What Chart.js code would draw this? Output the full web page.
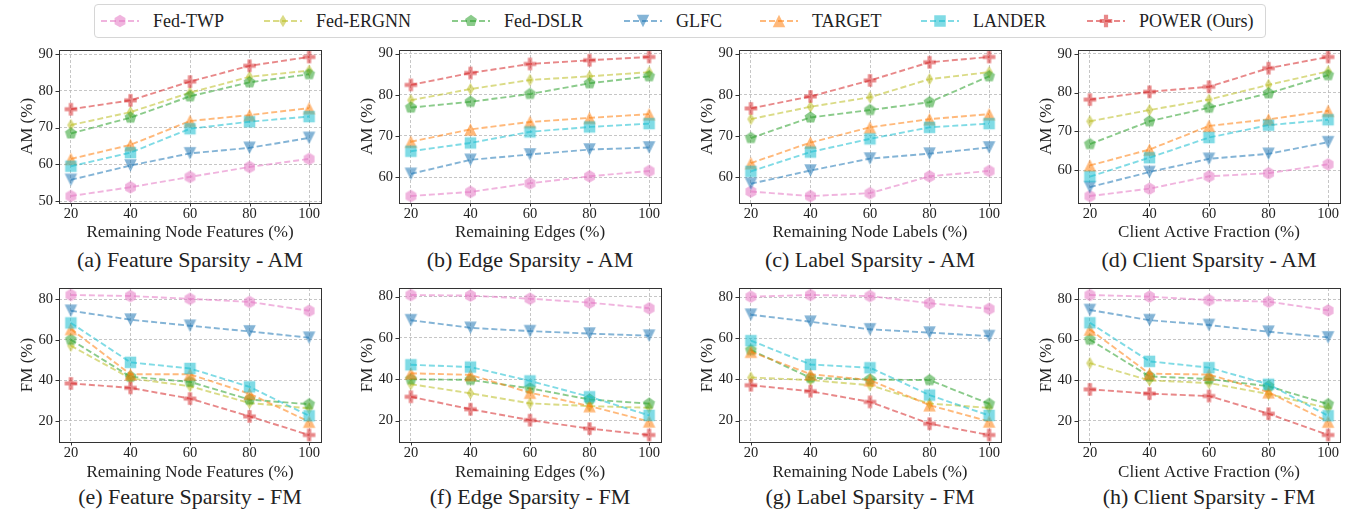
<!DOCTYPE html>
<html>
<head>
<meta charset="utf-8">
<script src="https://cdn.jsdelivr.net/npm/chart.js@4.4.1/dist/chart.umd.min.js"></script>
<style>
  body { margin: 0; background: #fff; width: 1353px; height: 510px; position: relative; overflow: hidden;
         font-family: "Liberation Serif", "Times New Roman", Times, "DejaVu Serif", serif; color: #222; }
  canvas { position: absolute; }
  .cap { position: absolute; width: 262px; text-align: center; font-size: 22px; line-height: 26px; white-space: nowrap; color: #222; }
  #legend { position: absolute; left: 94px; top: 4px; width: 1172px; height: 34px; box-sizing: border-box;
            border: 1px solid #d6d6d6; border-radius: 4px; }
  .item { position: absolute; top: 0; height: 32px; line-height: 32px; font-size: 18px; white-space: nowrap; }
  .handle { position: absolute; top: 6px; }
</style>
</head>
<body>
<div id="legend"></div>
<script>
const xValues = [20, 40, 60, 80, 100];
const methods = ['Fed-TWP', 'Fed-ERGNN', 'Fed-DSLR', 'GLFC', 'TARGET', 'LANDER', 'POWER (Ours)'];
const amTicks = [50, 60, 70, 80, 90];
const fmTicks = [20, 40, 60, 80];

// rows follow the order of methods
const featureAM = [
  [51.4, 53.8, 56.6, 59.3, 61.5],
  [70.7, 74.2, 79.5, 83.8, 85.5],
  [68.4, 72.7, 78.5, 82.3, 84.5],
  [55.8, 59.7, 63.0, 64.5, 67.2],
  [61.5, 65.3, 71.8, 73.4, 75.3],
  [59.5, 63.2, 69.7, 71.6, 73.0],
  [75.0, 77.4, 82.5, 86.8, 89.2]
];
const edgeAM = [
  [55.4, 56.4, 58.5, 60.2, 61.5],
  [78.7, 81.4, 83.6, 84.5, 85.5],
  [76.9, 78.3, 80.2, 82.8, 84.5],
  [60.8, 64.2, 65.5, 66.7, 67.2],
  [68.6, 71.6, 73.4, 74.4, 75.3],
  [66.3, 68.3, 71.0, 72.2, 73.0],
  [82.4, 85.3, 87.5, 88.4, 89.2]
];
const labelAM = [
  [56.5, 55.4, 56.1, 60.2, 61.5],
  [74.1, 77.1, 79.4, 83.8, 85.5],
  [69.5, 74.5, 76.3, 78.2, 84.5],
  [58.4, 61.6, 64.5, 65.7, 67.2],
  [63.4, 68.4, 72.1, 74.1, 75.3],
  [61.4, 66.1, 69.3, 72.1, 73.0],
  [76.7, 79.6, 83.5, 87.9, 89.2]
];
const clientAM = [
  [53.3, 55.2, 58.4, 59.2, 61.5],
  [72.6, 75.5, 78.2, 82.0, 85.5],
  [66.7, 72.6, 76.1, 79.8, 84.5],
  [55.6, 59.5, 62.9, 64.2, 67.2],
  [61.2, 65.3, 71.4, 73.1, 75.3],
  [58.3, 63.2, 68.4, 71.6, 73.0],
  [78.2, 80.2, 81.5, 86.3, 89.2]
];
const featureFM = [
  [82.2, 81.7, 80.3, 78.8, 74.4],
  [57.1, 41.0, 37.1, 28.8, 26.2],
  [60.1, 41.8, 39.3, 30.5, 28.2],
  [74.4, 70.0, 67.0, 64.2, 61.1],
  [65.4, 43.0, 43.0, 33.4, 19.6],
  [68.4, 48.9, 45.9, 36.8, 22.5],
  [38.5, 36.3, 31.0, 22.2, 13.0]
];
const edgeFM = [
  [80.8, 80.5, 79.0, 77.1, 74.4],
  [37.6, 33.2, 28.3, 27.0, 26.2],
  [40.0, 39.7, 35.6, 30.2, 28.2],
  [68.6, 64.9, 63.3, 62.1, 61.1],
  [42.9, 42.1, 33.5, 27.0, 19.6],
  [47.0, 45.9, 39.2, 31.5, 22.5],
  [31.5, 25.5, 20.2, 16.1, 13.0]
];
const labelFM = [
  [80.3, 81.1, 80.6, 77.1, 74.4],
  [41.0, 39.7, 37.2, 28.3, 26.2],
  [54.3, 40.8, 40.0, 39.7, 28.2],
  [71.5, 68.1, 64.4, 62.8, 61.1],
  [53.5, 42.6, 39.7, 27.5, 19.6],
  [58.9, 47.3, 45.7, 32.4, 22.5],
  [37.2, 34.3, 29.1, 18.5, 13.0]
];
const clientFM = [
  [82.0, 81.2, 79.5, 78.7, 74.4],
  [48.4, 39.9, 38.6, 33.2, 26.2],
  [60.0, 41.9, 40.6, 37.0, 28.2],
  [74.6, 69.6, 67.2, 63.9, 61.1],
  [65.0, 43.2, 42.8, 34.1, 19.6],
  [68.3, 49.3, 46.2, 38.0, 22.5],
  [35.5, 33.4, 32.2, 23.5, 13.0]
];

const panels = [
  { data: featureAM, yTitle: 'AM (%)', ticks: amTicks, xTitle: 'Remaining Node Features (%)', caption: '(a) Feature Sparsity - AM' },
  { data: edgeAM,    yTitle: 'AM (%)', ticks: amTicks, xTitle: 'Remaining Edges (%)',        caption: '(b) Edge Sparsity - AM' },
  { data: labelAM,   yTitle: 'AM (%)', ticks: amTicks, xTitle: 'Remaining Node Labels (%)',  caption: '(c) Label Sparsity - AM' },
  { data: clientAM,  yTitle: 'AM (%)', ticks: amTicks, xTitle: 'Client Active Fraction (%)', caption: '(d) Client Sparsity - AM' },
  { data: featureFM, yTitle: 'FM (%)', ticks: fmTicks, xTitle: 'Remaining Node Features (%)', caption: '(e) Feature Sparsity - FM' },
  { data: edgeFM,    yTitle: 'FM (%)', ticks: fmTicks, xTitle: 'Remaining Edges (%)',        caption: '(f) Edge Sparsity - FM' },
  { data: labelFM,   yTitle: 'FM (%)', ticks: fmTicks, xTitle: 'Remaining Node Labels (%)',  caption: '(g) Label Sparsity - FM' },
  { data: clientFM,  yTitle: 'FM (%)', ticks: fmTicks, xTitle: 'Client Active Fraction (%)', caption: '(h) Client Sparsity - FM' }
];

// styling
const colors = ['227,119,194', '188,189,34', '44,160,44', '31,119,180', '255,127,14', '23,190,207', '214,39,40'];
const shapes = ['hexagon', 'thinDiamond', 'pentagon', 'triDown', 'triUp', 'square', 'plus'];
const FONT = '"Liberation Serif", "Times New Roman", Times, "DejaVu Serif", serif';
const ALPHA = 0.55;
const MSIZE = 12.5;
const plotLefts = [59, 399, 739, 1078];
const plotW = 262;
const YAXIS_W = 56;

function tracePoly(ctx, pts) {
  ctx.beginPath();
  pts.forEach((p, i) => i ? ctx.lineTo(p[0], p[1]) : ctx.moveTo(p[0], p[1]));
  ctx.closePath();
}

function drawShape(ctx, shape, cx, cy, s) {
  const r = s / 2;
  let pts = [];
  if (shape === 'hexagon') {
    for (let k = 0; k < 6; k++) { const a = (-90 + k * 60) * Math.PI / 180; pts.push([cx + r * Math.cos(a), cy + r * Math.sin(a)]); }
  } else if (shape === 'pentagon') {
    for (let k = 0; k < 5; k++) { const a = (-90 + k * 72) * Math.PI / 180; pts.push([cx + r * Math.cos(a), cy + r * Math.sin(a)]); }
  } else if (shape === 'thinDiamond') {
    pts = [[cx, cy - r], [cx + 0.6 * r, cy], [cx, cy + r], [cx - 0.6 * r, cy]];
  } else if (shape === 'triUp') {
    pts = [[cx, cy - r], [cx + r, cy + r], [cx - r, cy + r]];
  } else if (shape === 'triDown') {
    pts = [[cx, cy + r], [cx - r, cy - r], [cx + r, cy - r]];
  } else if (shape === 'square') {
    const q = r * 0.92;
    pts = [[cx - q, cy - q], [cx + q, cy - q], [cx + q, cy + q], [cx - q, cy + q]];
  } else if (shape === 'plus') {
    const a = s / 6;
    pts = [[-a, -3 * a], [a, -3 * a], [a, -a], [3 * a, -a], [3 * a, a], [a, a], [a, 3 * a], [-a, 3 * a],
           [-a, a], [-3 * a, a], [-3 * a, -a], [-a, -a]].map(p => [cx + p[0], cy + p[1]]);
  }
  tracePoly(ctx, pts);
  ctx.fill();
}

function makeMarker(shape, rgb) {
  const c = document.createElement('canvas');
  c.width = 15; c.height = 15;
  const ctx = c.getContext('2d');
  ctx.fillStyle = 'rgba(' + rgb + ',' + ALPHA + ')';
  drawShape(ctx, shape, c.width / 2, c.height / 2, MSIZE);
  return c;
}

const markers = shapes.map((s, i) => makeMarker(s, colors[i]));

// black frame and outward tick marks like matplotlib spines
const framePlugin = {
  id: 'frame',
  afterDatasetsDraw(chart) {
    const { ctx, chartArea: a, scales } = chart;
    ctx.save();
    ctx.strokeStyle = '#333';
    ctx.lineWidth = 1;
    ctx.strokeRect(Math.round(a.left) + 0.5, Math.round(a.top) + 0.5, Math.round(a.right - a.left), Math.round(a.bottom - a.top));
    ctx.beginPath();
    scales.x.ticks.forEach(t => {
      const px = Math.round(scales.x.getPixelForValue(t.value)) + 0.5;
      ctx.moveTo(px, a.bottom); ctx.lineTo(px, a.bottom + 3.5);
    });
    scales.y.ticks.forEach(t => {
      const py = Math.round(scales.y.getPixelForValue(t.value)) + 0.5;
      ctx.moveTo(a.left, py); ctx.lineTo(a.left - 3.5, py);
    });
    ctx.stroke();
    ctx.restore();
  }
};

panels.forEach((p, idx) => {
  const row = Math.floor(idx / 4), col = idx % 4;
  const plotTop = row === 0 ? 50 : 288;
  const plotBottom = row === 0 ? 203 : 442;
  const xh = row === 0 ? 40 : 41;
  const cv = document.createElement('canvas');
  const cw = YAXIS_W + plotW + 8;
  const ch = plotBottom - plotTop + 10 + xh;
  cv.width = cw; cv.height = ch;
  cv.style.left = (plotLefts[col] - YAXIS_W) + 'px';
  cv.style.top = (plotTop - 10) + 'px';
  cv.style.width = cw + 'px'; cv.style.height = ch + 'px';
  document.body.appendChild(cv);

  const all = p.data.flat();
  const lo = Math.min(...all), hi = Math.max(...all), m = (hi - lo) * 0.05;

  const datasets = p.data.map((vals, k) => ({
    label: methods[k],
    data: vals.map((v, i) => ({ x: xValues[i], y: v })),
    borderColor: 'rgba(' + colors[k] + ',' + ALPHA + ')',
    backgroundColor: 'rgba(' + colors[k] + ',' + ALPHA + ')',
    borderWidth: 1.9,
    borderDash: [6, 3],
    pointStyle: markers[k],
    pointRadius: 6,
    pointHoverRadius: 6,
    fill: false,
    tension: 0,
    order: methods.length - k
  }));

  new Chart(cv.getContext('2d'), {
    type: 'line',
    data: { datasets },
    plugins: [framePlugin],
    options: {
      responsive: false,
      animation: false,
      devicePixelRatio: 1,
      layout: { padding: { left: 0, right: 8, top: 10, bottom: 0 } },
      plugins: { legend: { display: false }, tooltip: { enabled: false } },
      scales: {
        x: {
          type: 'linear', min: 16, max: 104,
          afterBuildTicks: s => { s.ticks = xValues.map(v => ({ value: v })); },
          afterFit: s => { s.height = xh; s.paddingLeft = 0; s.paddingRight = 0; },
          ticks: { font: { family: FONT, size: 14.5 }, color: '#222', padding: 2, maxRotation: 0, autoSkip: false },
          grid: { color: '#b8b8b8', lineWidth: 0.8, drawTicks: false },
          border: { display: false, dash: [3, 2] },
          title: { display: true, text: p.xTitle, color: '#222', font: { family: FONT, size: 17 }, padding: { top: 0, bottom: 0 } }
        },
        y: {
          type: 'linear', min: lo - m, max: hi + m,
          afterBuildTicks: s => { s.ticks = p.ticks.filter(v => v >= s.min && v <= s.max).map(v => ({ value: v })); },
          afterFit: s => { s.width = YAXIS_W; s.paddingTop = 0; s.paddingBottom = 0; },
          ticks: { font: { family: FONT, size: 14.5 }, color: '#222', padding: 6, autoSkip: false },
          grid: { color: '#b8b8b8', lineWidth: 0.8, drawTicks: false },
          border: { display: false, dash: [3, 2] },
          title: { display: true, text: p.yTitle, color: '#222', font: { family: FONT, size: 17 }, padding: { top: 14, bottom: 0 } }
        }
      }
    }
  });

  const cap = document.createElement('div');
  cap.className = 'cap';
  cap.textContent = p.caption;
  cap.style.left = plotLefts[col] + 'px';
  cap.style.top = (row === 0 ? 247 : 484) + 'px';
  document.body.appendChild(cap);
});

// legend
const handleX = [101, 264, 452, 624, 760, 921, 1087];
const legend = document.getElementById('legend');
methods.forEach((name, k) => {
  const h = document.createElement('canvas');
  h.className = 'handle';
  h.width = 38; h.height = 20;
  h.style.left = (handleX[k] - 95) + 'px';
  const ctx = h.getContext('2d');
  ctx.strokeStyle = 'rgba(' + colors[k] + ',' + ALPHA + ')';
  ctx.lineWidth = 1.9;
  ctx.setLineDash([6, 3]);
  ctx.beginPath(); ctx.moveTo(0, 10); ctx.lineTo(38, 10); ctx.stroke();
  ctx.fillStyle = 'rgba(' + colors[k] + ',' + ALPHA + ')';
  drawShape(ctx, shapes[k], 19, 10, MSIZE);
  legend.appendChild(h);
  const t = document.createElement('div');
  t.className = 'item';
  t.textContent = name;
  t.style.left = (handleX[k] - 95 + 52) + 'px';
  legend.appendChild(t);
});
</script>
</body>
</html>
